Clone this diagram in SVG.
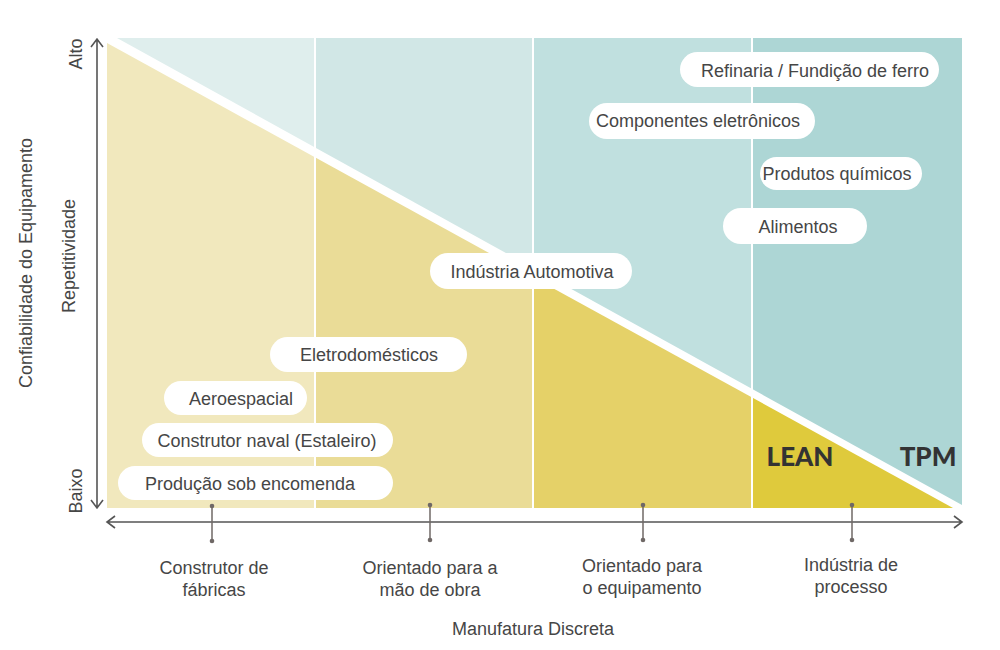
<svg xmlns="http://www.w3.org/2000/svg" width="1000" height="650" viewBox="0 0 1000 650">
<defs>
<style>
.t{font-family:"Liberation Sans",Arial,sans-serif;font-size:18px;fill:#464646;text-anchor:middle}
.ax{font-family:"Liberation Sans",Arial,sans-serif;font-size:18px;fill:#464646;text-anchor:middle}
.big{font-family:Lato,"Liberation Sans",sans-serif;font-weight:900;font-size:26px;fill:#333;text-anchor:middle}
.pill{fill:#fff}
.axis{stroke:#555;stroke-width:1.6;fill:none}
.tick{stroke:#6f6866;stroke-width:1.5}
.dot{fill:#6f6866}
.div{stroke:#fff;stroke-width:2}
</style>
<clipPath id="teal"><polygon points="117,38 962,38 962,505"/></clipPath>
<clipPath id="yel"><polygon points="107,43 107,508 953,508"/></clipPath>
</defs>
<g id="background">
<g clip-path="url(#teal)">
<rect x="100" y="38" width="215" height="470" fill="#dfeeed"/>
<rect x="315" y="38" width="218" height="470" fill="#d1e7e6"/>
<rect x="533" y="38" width="219" height="470" fill="#c0e0df"/>
<rect x="752" y="38" width="210" height="470" fill="#add6d5"/>
</g>
<g clip-path="url(#yel)">
<rect x="100" y="38" width="215" height="470" fill="#f1e8bd"/>
<rect x="315" y="38" width="218" height="470" fill="#eadc97"/>
<rect x="533" y="38" width="219" height="470" fill="#e5d168"/>
<rect x="752" y="38" width="210" height="470" fill="#dfca3c"/>
</g>
<line class="div" x1="315" y1="38" x2="315" y2="508"/>
<line class="div" x1="533" y1="38" x2="533" y2="508"/>
<line class="div" x1="752" y1="38" x2="752" y2="508"/>
</g>
<g id="axes">
<path class="axis" d="M97,40 V507 M91,47 L97,39 L103,47 M91,500 L97,508 L103,500"/>
<path class="axis" d="M107,522 H962 M115,516 L107,522 L115,528 M954,516 L962,522 L954,528"/>
</g>
<g id="connectors">
<g><line class="tick" x1="212" y1="506" x2="212" y2="541"/><circle class="dot" cx="212" cy="506" r="2.3"/><circle class="dot" cx="212" cy="541" r="2.3"/></g>
<g><line class="tick" x1="430" y1="505" x2="430" y2="540"/><circle class="dot" cx="430" cy="505" r="2.3"/><circle class="dot" cx="430" cy="540" r="2.3"/></g>
<g><line class="tick" x1="643" y1="505" x2="643" y2="540"/><circle class="dot" cx="643" cy="505" r="2.3"/><circle class="dot" cx="643" cy="540" r="2.3"/></g>
<g><line class="tick" x1="852" y1="505" x2="852" y2="540"/><circle class="dot" cx="852" cy="505" r="2.3"/><circle class="dot" cx="852" cy="540" r="2.3"/></g>
</g>
<g id="axis-labels">
<text class="ax" transform="translate(82,54) rotate(-90)">Alto</text>
<text class="ax" transform="translate(82,491) rotate(-90)">Baixo</text>
<text class="ax" transform="translate(75,256) rotate(-90)">Repetitividade</text>
<text class="ax" transform="translate(32,263) rotate(-90)">Confiabilidade do Equipamento</text>
<text class="ax" x="533" y="635">Manufatura Discreta</text>
</g>
<g id="cat1"><text class="ax" x="214" y="574">Construtor de</text><text class="ax" x="214" y="596">fábricas</text></g>
<g id="cat2"><text class="ax" x="430" y="574">Orientado para a</text><text class="ax" x="430" y="596">mão de obra</text></g>
<g id="cat3"><text class="ax" x="642" y="572">Orientado para</text><text class="ax" x="642" y="594">o equipamento</text></g>
<g id="cat4"><text class="ax" x="851" y="571">Indústria de</text><text class="ax" x="851" y="593">processo</text></g>
<g id="n-refinaria"><rect class="pill" x="680" y="52" width="259" height="35" rx="17.5"/><text class="t" x="815" y="77">Refinaria / Fundição de ferro</text></g>
<g id="n-componentes"><rect class="pill" x="589" y="103" width="226" height="36" rx="18"/><text class="t" x="698" y="127">Componentes eletrônicos</text></g>
<g id="n-quimicos"><rect class="pill" x="760" y="157" width="162" height="33" rx="16.5"/><text class="t" x="837" y="180">Produtos químicos</text></g>
<g id="n-alimentos"><rect class="pill" x="723" y="208" width="144" height="36" rx="18"/><text class="t" x="798" y="233">Alimentos</text></g>
<g id="n-automotiva"><rect class="pill" x="430" y="253" width="202" height="36" rx="18"/><text class="t" x="532" y="278">Indústria Automotiva</text></g>
<g id="n-eletro"><rect class="pill" x="270" y="337" width="197" height="35" rx="17.5"/><text class="t" x="369" y="361">Eletrodomésticos</text></g>
<g id="n-aero"><rect class="pill" x="164" y="381" width="143" height="34" rx="17"/><text class="t" x="241" y="405">Aeroespacial</text></g>
<g id="n-naval"><rect class="pill" x="142" y="423" width="251" height="34" rx="17"/><text class="t" x="267" y="447">Construtor naval (Estaleiro)</text></g>
<g id="n-producao"><rect class="pill" x="118" y="466" width="275" height="34" rx="17"/><text class="t" x="250" y="490">Produção sob encomenda</text></g>
<g id="zones">
<text class="big" x="800" y="466">LEAN</text>
<text class="big" x="928" y="466">TPM</text>
</g>
</svg>
